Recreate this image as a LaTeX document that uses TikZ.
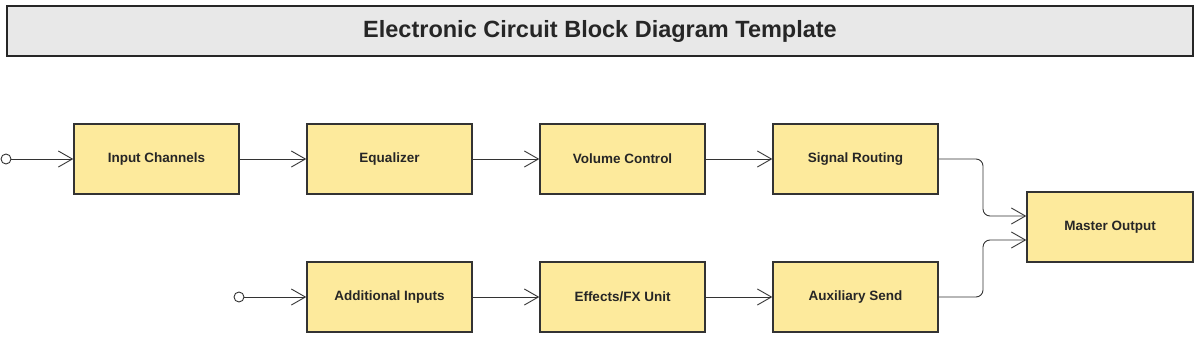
\documentclass[tikz,border=0pt]{standalone}
\usepackage{fontspec}
\setmainfont{Liberation Sans}
\usetikzlibrary{arrows.meta}
\definecolor{boxfill}{HTML}{FDEA9C}
\definecolor{edgec}{HTML}{333333}
\definecolor{titlefill}{HTML}{E8E8E8}
\begin{document}
\begin{tikzpicture}[x=1pt,y=-1pt,
  blk/.style={draw=edgec,line width=1.5pt,fill=boxfill,minimum width=165pt,minimum height=70pt,inner sep=0pt,font=\fontsize{13.5}{16}\selectfont\bfseries,text=black!85},
  conn/.style={draw=edgec,line width=0.9pt,-{Straight Barb[length=14pt,width=16pt,line width=0.9pt]}},
  term/.style={circle,draw=edgec,fill=white,line width=0.9pt,minimum size=10pt,inner sep=0pt}]
\useasboundingbox (0,0) rectangle (1200,340);
\node[draw=black!85,line width=2pt,fill=titlefill,minimum width=1186pt,minimum height=50pt,inner sep=0pt,font=\fontsize{23.5}{28}\selectfont\bfseries,text=black!85] (title) at (600,31) {Electronic Circuit Block Diagram Template};
\node[blk] (in) at (156.5,159) {Input Channels};
\node[blk] (eq) at (389.5,159) {Equalizer};
\node[blk] (vol) at (622.5,159) {Volume Control};
\node[blk] (sig) at (855.5,159) {Signal Routing};
\node[blk] (add) at (389.5,297) {Additional Inputs};
\node[blk] (fx) at (622.5,297) {Effects/FX Unit};
\node[blk] (aux) at (855.5,297) {Auxiliary Send};
\node[blk,minimum width=166pt] (mo) at (1110,227) {Master Output};
\node[term] (t1) at (6,159) {};
\node[term] (t2) at (239,297) {};
\draw[conn] (t1) -- (in);
\draw[conn] (in) -- (eq);
\draw[conn] (eq) -- (vol);
\draw[conn] (vol) -- (sig);
\draw[conn] (t2) -- (add);
\draw[conn] (add) -- (fx);
\draw[conn] (fx) -- (aux);
\draw[conn,rounded corners=7pt] (sig.east) -- (983,159) -- (983,216) -- (mo.west |- 0,216);
\draw[conn,rounded corners=7pt] (aux.east) -- (983,297) -- (983,240) -- (mo.west |- 0,240);
\end{tikzpicture}
\end{document}
